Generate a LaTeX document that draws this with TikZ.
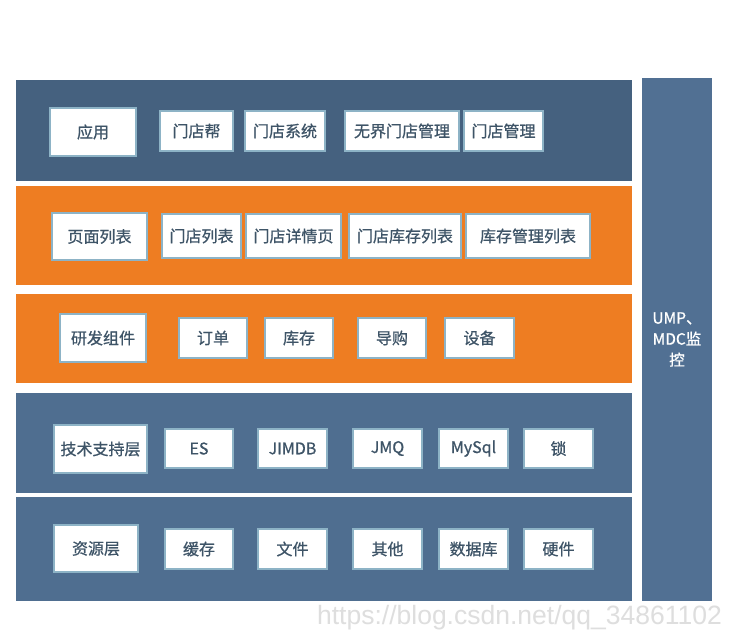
\documentclass[tikz,border=0pt]{standalone}
\usepackage{fontspec}
\newfontfamily\cjk[FakeBold=0.8]{Noto Sans CJK SC}
\newfontfamily\wmfont{Liberation Sans}
\definecolor{topblue}{HTML}{45617F}
\definecolor{layblue}{HTML}{4F6E90}
\definecolor{colblue}{HTML}{517093}
\definecolor{layorange}{HTML}{EE7D22}
\definecolor{boxborder}{HTML}{8DB3C6}
\definecolor{txt}{HTML}{3E5467}
\definecolor{wm}{HTML}{DEDEDE}
\tikzset{
  layer/.style={inner sep=0pt, draw=none},
  bx/.style={inner sep=0pt, draw=boxborder, line width=1.3pt, fill=white, text=txt,
    font=\cjk\fontsize{16}{18}\selectfont},
}
% \rectnode{name}{x1}{y1}{x2}{y2}{style}{text}
\newcommand\rectnode[7]{%
  \pgfmathsetmacro\cx{(#2+#4)/2}\pgfmathsetmacro\cy{(#3+#5)/2}%
  \pgfmathsetmacro\ww{#4-#2}\pgfmathsetmacro\hh{#5-#3}%
  \node[#6, minimum width=\ww pt, minimum height=\hh pt] (#1) at (\cx,\cy) {#7};}
\begin{document}
\begin{tikzpicture}[x=1pt,y=-1pt]
\useasboundingbox[fill=white] (0,0) rectangle (730,643);
% layers
\rectnode{L1}{16}{80}{632}{181}{layer, fill=topblue}{}
\rectnode{L2}{16}{186}{632}{285}{layer, fill=layorange}{}
\rectnode{L3}{16}{294}{632}{383}{layer, fill=layorange}{}
\rectnode{L4}{16}{393}{632}{493}{layer, fill=layblue}{}
\rectnode{L5}{16}{497}{632}{601}{layer, fill=layblue}{}
\rectnode{mon}{642}{78}{712}{601}{layer, fill=colblue, align=center, text=white,
  font=\cjk\fontsize{15.5}{21}\selectfont}{UMP、\\MDC监\\控}
% row 1
\rectnode{a1}{50}{108}{136}{156}{bx}{应用}
\rectnode{a2}{160}{111}{233}{151}{bx}{门店帮}
\rectnode{a3}{245}{111}{325}{151}{bx}{门店系统}
\rectnode{a4}{345}{111}{459}{151}{bx}{无界门店管理}
\rectnode{a5}{464}{111}{543}{151}{bx}{门店管理}
% row 2
\rectnode{b1}{52}{213}{147}{260}{bx}{页面列表}
\rectnode{b2}{162}{214}{241}{258}{bx}{门店列表}
\rectnode{b3}{246}{214}{341}{258}{bx}{门店详情页}
\rectnode{b4}{349}{214}{461}{258}{bx}{门店库存列表}
\rectnode{b5}{466}{214}{590}{258}{bx}{库存管理列表}
% row 3
\rectnode{c1}{60}{314}{146}{362}{bx}{研发组件}
\rectnode{c2}{179}{318}{247}{358}{bx}{订单}
\rectnode{c3}{265}{318}{333}{358}{bx}{库存}
\rectnode{c4}{358}{318}{426}{358}{bx}{导购}
\rectnode{c5}{445}{318}{514}{358}{bx}{设备}
% row 4
\rectnode{d1}{54}{425}{147}{473}{bx}{技术支持层}
\rectnode{d2}{165}{429}{233}{468}{bx}{ES}
\rectnode{d3}{258}{429}{327}{468}{bx}{JIMDB}
\rectnode{d4}{353}{429}{422}{468}{bx}{JMQ}
\rectnode{d5}{439}{429}{508}{468}{bx}{MySql}
\rectnode{d6}{524}{429}{593}{468}{bx}{锁}
% row 5
\rectnode{e1}{54}{525}{138}{572}{bx}{资源层}
\rectnode{e2}{165}{529}{233}{569}{bx}{缓存}
\rectnode{e3}{258}{529}{327}{569}{bx}{文件}
\rectnode{e4}{353}{529}{422}{569}{bx}{其他}
\rectnode{e5}{439}{529}{508}{569}{bx}{数据库}
\rectnode{e6}{524}{529}{593}{569}{bx}{硬件}
% watermark
\node[anchor=east, text=wm, font=\wmfont\fontsize{26.5}{28}\selectfont, inner sep=0pt] (wmk) at (722,618) {https://blog.csdn.net/qq\_34861102};
\end{tikzpicture}
\end{document}
